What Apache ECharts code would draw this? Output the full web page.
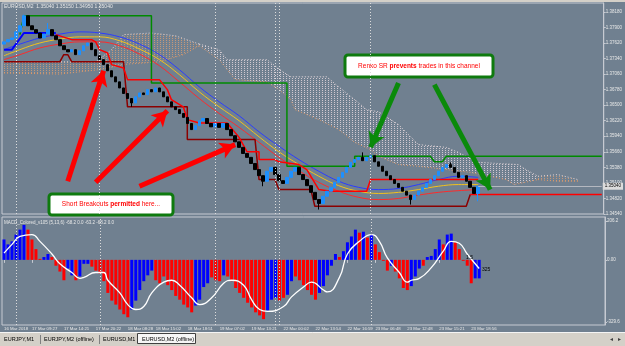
<!DOCTYPE html>
<html>
<head>
<meta charset="utf-8">
<script src="https://cdn.jsdelivr.net/npm/echarts@6.0.0/dist/echarts.min.js"></script>
<style>
  html, body { margin: 0; padding: 0; background: #708090; overflow: hidden; }
  #chart { width: 625px; height: 346px; }
</style>
</head>
<body>
<div id="chart"></div>
<script>
  // EURUSD M2 (offline renko) with MA ribbon, Renko SR lines, kumo and MACD_Colored

  var slotCount = 151; // bar slots on the time axis (includes the chart shift on the right)

  // renko closes, one per bar (open = previous close)
  var firstOpen = 1.3760;
  var closes = [
    1.3764, 1.3768, 1.3771, 1.3782, 1.3793, 1.3811, 1.3793, 1.3786, 1.3780, 1.3771,
    1.3778, 1.3786, 1.3775, 1.3768, 1.3757, 1.3750, 1.3746, 1.3750, 1.3741, 1.3748,
    1.3757, 1.3762, 1.3750, 1.3739, 1.3732, 1.3723, 1.3712, 1.3701, 1.3692, 1.3681,
    1.3671, 1.3662, 1.3654, 1.3665, 1.3672, 1.3669, 1.3678, 1.3674, 1.3681, 1.3674,
    1.3665, 1.3656, 1.3647, 1.3642, 1.3635, 1.3628, 1.3617, 1.3606, 1.3613, 1.3622,
    1.3626, 1.3617, 1.3611, 1.3617, 1.3610, 1.3617, 1.3606, 1.3595, 1.3584, 1.3574,
    1.3563, 1.3556, 1.3545, 1.3534, 1.3523, 1.3513, 1.3531, 1.3538, 1.3525, 1.3514,
    1.3509, 1.3520, 1.3531, 1.3538, 1.3525, 1.3516, 1.3505, 1.3493, 1.3480, 1.3473,
    1.3486, 1.3495, 1.3502, 1.3511, 1.3520, 1.3529, 1.3538, 1.3547, 1.3552, 1.3556,
    1.3550, 1.3556, 1.3559, 1.3548, 1.3540, 1.3531, 1.3523, 1.3516, 1.3509, 1.3502,
    1.3495, 1.3488, 1.3480, 1.3488, 1.3495, 1.3502, 1.3509, 1.3516, 1.3523, 1.3531,
    1.3538, 1.3543, 1.3538, 1.3529, 1.3520, 1.3523, 1.3513, 1.3502, 1.3491, 1.3504
  ];
  var wickLows = [[32, 1.3647], [65, 1.3504], [79, 1.3462], [102, 1.3471], [119, 1.3477]];
  var wickHighs = [[5, 1.3813], [11, 1.3798], [90, 1.3565], [112, 1.3547]];

  // moving-average ribbon [bar, price]
  var maBlue = [[0, 1.3750], [4, 1.3760], [9, 1.3771], [14, 1.3778], [19, 1.3782], [24, 1.3780], [29, 1.3773],
    [34, 1.3760], [39, 1.3741], [44, 1.3714], [49, 1.3683], [54, 1.3656], [59, 1.3631], [64, 1.3602],
    [69, 1.3576], [74, 1.3552], [79, 1.3531], [84, 1.3513], [89, 1.3502], [94, 1.3498], [99, 1.3500],
    [104, 1.3507], [109, 1.3516], [114, 1.3522], [119, 1.3520]];
  var maGold = [[0, 1.3739], [4, 1.3750], [9, 1.3762], [14, 1.3769], [19, 1.3773], [24, 1.3773], [29, 1.3766],
    [34, 1.3751], [39, 1.3732], [44, 1.3705], [49, 1.3674], [54, 1.3647], [59, 1.3622], [64, 1.3593],
    [69, 1.3566], [74, 1.3543], [79, 1.3522], [84, 1.3505], [89, 1.3495], [94, 1.3491], [99, 1.3493],
    [104, 1.3498], [109, 1.3504], [114, 1.3507], [119, 1.3507]];
  var maRed = [[0, 1.3732], [4, 1.3741], [9, 1.3753], [14, 1.3760], [19, 1.3764], [24, 1.3764], [29, 1.3757],
    [34, 1.3742], [39, 1.3721], [44, 1.3692], [49, 1.3662], [54, 1.3635], [59, 1.3610], [64, 1.3583],
    [69, 1.3556], [74, 1.3532], [79, 1.3511], [84, 1.3495], [89, 1.3484], [94, 1.3480], [99, 1.3482],
    [104, 1.3488], [109, 1.3493], [114, 1.3496], [119, 1.3498]];

  // Renko SR / channel lines [bar, price]
  var srBlue = [[0, 1.3750], [2, 1.3750], [5, 1.3780], [13, 1.3780]];
  var srUpper = [[13, 1.3777], [17, 1.3768], [22, 1.3768], [23, 1.3764], [24, 1.3750], [26, 1.3744], [27, 1.3723],
    [30, 1.3717], [31, 1.3696], [39, 1.3696], [41, 1.3678], [42, 1.3660], [45, 1.3647], [46, 1.3624],
    [49, 1.3618], [56, 1.3618], [59, 1.3592], [61, 1.3566], [64, 1.3566], [64, 1.3552], [68, 1.3552],
    [69, 1.3548], [74, 1.3543], [76, 1.3534], [79, 1.3498], [82, 1.3495], [91, 1.3495], [92, 1.3516],
    [119, 1.3516]];
  var srLower = [[0, 1.3728], [14, 1.3728], [15, 1.3741], [16, 1.3741], [17, 1.3728], [30, 1.3728], [31, 1.3647],
    [46, 1.3647], [46, 1.3588], [63, 1.3588], [64, 1.3516], [68, 1.3516], [69, 1.3498], [77, 1.3498],
    [78, 1.3468], [116, 1.3468], [117, 1.3489]];
  var srLowerExt = [[117, 1.3489], [150, 1.3489]];
  var srGreen = [[4, 1.3777], [5, 1.3811], [37, 1.3811], [37, 1.3690], [71, 1.3690], [71, 1.3540], [88, 1.3540],
    [88, 1.3558], [107, 1.3558], [108, 1.3548], [110, 1.3548], [111, 1.3558], [150, 1.3558]];

  // kumo edges [bar, price]
  var kumoATop = [[0, 1.3728], [23, 1.3728], [27, 1.3750], [30, 1.3777], [37, 1.3780], [43, 1.3775], [49, 1.3760]];
  var kumoABot = [[0, 1.3708], [14, 1.3706], [24, 1.3714], [31, 1.3724], [39, 1.3728], [45, 1.3741], [49, 1.3757]];
  var kumoBTop = [[49, 1.3760], [54, 1.3750], [56, 1.3732], [66, 1.3732], [70, 1.3710], [72, 1.3701], [81, 1.3701],
    [84, 1.3683], [88, 1.3660], [91, 1.3642], [94, 1.3638], [99, 1.3615], [104, 1.3579], [111, 1.3574],
    [114, 1.3565], [119, 1.3547], [129, 1.3543], [131, 1.3534], [134, 1.3522]];
  var kumoBBot = [[49, 1.3757], [54, 1.3732], [58, 1.3696], [66, 1.3692], [69, 1.3678], [72, 1.3660], [73, 1.3642],
    [79, 1.3624], [84, 1.3606], [88, 1.3583], [92, 1.3570], [94, 1.3558], [99, 1.3543], [104, 1.3540],
    [117, 1.3529], [126, 1.3516], [128, 1.3507], [134, 1.3516]];
  var kumoCTop = [[134, 1.3522], [139, 1.3525], [144, 1.3516]];
  var kumoCBot = [[134, 1.3516], [139, 1.3513], [144, 1.3513]];

  // MACD_Colored histogram, colour per bar (b = blue, r = red), and signal line
  var macdHist = [
    108, 82, 98, 134, 160, 185, 160, 108, 57, 5,
    15, 31, 15, -31, -62, -108, -46, -82, -108, -88,
    -21, -21, -36, -57, -72, -113, -175, -216, -237, -263,
    -288, -304, -263, -216, -160, -113, -82, -57, -108, -124,
    -88, -134, -160, -191, -211, -237, -252, -278, -242, -211,
    -144, -124, -93, -108, -113, -82, -88, -113, -149, -175,
    -201, -227, -252, -278, -294, -314, -268, -211, -201, -216,
    -201, -185, -113, -88, -108, -134, -160, -185, -211, -175,
    -139, -82, -31, 31, 15, 46, 93, 124, 160, 144,
    149, 118, 134, 82, 41, -5, -57, -31, -62, -98,
    -149, -160, -139, -88, -46, -31, 15, 21, 57, 108,
    82, 134, 139, 93, 57, -5, -31, -124, -98, -98
  ];
  var macdColors = 'bbbbbbrrrrbbrrrrbbrbbbrrrrrrrrrrbbbbbbrrrrrrrrrrbbbbrrrbrrrrrrrrrrbbbrrbbrrrrrrbbbbbrbbbbrbrbrrrrbrrrrbbbrbbbbrbbrrrrrbb';
  var macdSignal = [[0, 36], [2, 82], [4, 124], [7, 134], [9, 98], [12, 31], [14, -21], [17, -67], [19, -98],
    [20, -93], [23, -67], [25, -67], [26, -108], [29, -175], [31, -237], [33, -263], [35, -247], [37, -175],
    [40, -118], [42, -108], [44, -134], [47, -201], [49, -237], [52, -201], [55, -124], [57, -108], [60, -134],
    [62, -211], [64, -263], [66, -273], [70, -247], [72, -196], [75, -144], [77, -118], [80, -160], [81, -170],
    [84, -93], [86, 31], [89, 98], [92, 134], [94, 98], [96, 10], [99, -67], [101, -118], [102, -108],
    [104, -98], [107, -41], [110, 46], [112, 98], [114, 88], [116, 31], [119, -46]];

  var timeTickIdx = [0, 7, 15, 23, 31, 38, 46, 54, 62, 70, 78, 86, 93, 101, 109, 117];
  var timeLabels = ['16 Mar 2018', '17 Mar 09:27', '17 Mar 14:21', '17 Mar 20:22', '18 Mar 08:28',
    '18 Mar 15:02', '18 Mar 18:51', '19 Mar 07:02', '19 Mar 13:21', '22 Mar 00:02', '22 Mar 13:54',
    '22 Mar 16:59', '23 Mar 06:48', '23 Mar 12:48', '23 Mar 15:21', '23 Mar 18:56'];
  var priceTicks = [1.3818, 1.3790, 1.3762, 1.3734, 1.3706, 1.3678, 1.3650, 1.3622, 1.3594, 1.3566,
    1.3538, 1.3510, 1.3482, 1.3454];
  var macdTicks = [206.2, 0, -329.6];
  var daySeparators = [3, 24, 53, 68, 69, 92];
  var bidPrice = 1.3504;

  // annotation arrows [[bar, price] from, [bar, price] to]
  var redArrows = [[[16, 1.3513], [25, 1.3712]], [[23, 1.3511], [41, 1.3640]], [[34, 1.3504], [58, 1.3579]]];
  var greenArrows = [[[99, 1.3690], [92, 1.3574]], [[108, 1.3687], [122, 1.3498]]];

  // ---------------------------------------------------------------
  var cats = [];
  for (var i = 0; i < slotCount; i++) cats.push(String(i));

  var labelAt = {};
  timeTickIdx.forEach(function (idx, k) { labelAt[idx] = timeLabels[k]; });
  function isTimeTick(index) { return labelAt[index] !== undefined; }

  var candles = closes.map(function (c, i) {
    var o = i === 0 ? firstOpen : closes[i - 1];
    return [o, c, Math.min(o, c), Math.max(o, c)];
  });
  wickLows.forEach(function (w) { candles[w[0]][2] = w[1]; });
  wickHighs.forEach(function (w) { candles[w[0]][3] = w[1]; });

  var histData = macdHist.map(function (v, i) {
    return { value: v, itemStyle: { color: macdColors[i] === 'b' ? '#0000ff' : '#ff0000' } };
  });

  function dots(color) {
    var c = document.createElement('canvas');
    c.width = 3; c.height = 2;
    var g = c.getContext('2d');
    g.fillStyle = color;
    g.fillRect(1, 0, 1, 1);
    return { image: c, repeat: 'repeat' };
  }

  var kumoParts = [
    { top: kumoATop, bot: kumoABot, dot: 'rgba(226,160,112,0.75)' },
    { top: kumoBTop, bot: kumoBBot, dot: 'rgba(232,218,224,0.8)' },
    { top: kumoCTop, bot: kumoCBot, dot: 'rgba(226,160,112,0.75)' }
  ];

  function lineSeries(data, color, width, extra) {
    var s = {
      type: 'line', xAxisIndex: 0, yAxisIndex: 0, data: data, showSymbol: false, symbol: 'none',
      silent: true, lineStyle: { color: color, width: width }, z: 3
    };
    for (var k in extra) s[k] = extra[k];
    return s;
  }

  var sepLines = daySeparators.map(function (x) {
    return { xAxis: x, lineStyle: { color: '#dcdcdc', type: [1, 2], width: 1 } };
  });

  var arrowLines = redArrows.map(function (a) {
    return [{ coord: a[0], lineStyle: { color: '#ff0000', width: 5, type: 'solid' } }, { coord: a[1] }];
  }).concat(greenArrows.map(function (a) {
    return [{ coord: a[0], lineStyle: { color: '#0a8a0a', width: 5, type: 'solid' } }, { coord: a[1] }];
  }));

  var axisGray = '#c6cad2';
  var txtGray = '#e8e8e8';
  var fontName = 'Liberation Sans';

  var chart = echarts.init(document.getElementById('chart'));

  var option = {
    backgroundColor: '#708090',
    animation: false,
    textStyle: { fontFamily: fontName },
    grid: [
      { left: 2, right: 20, top: 3, height: 211, show: true, borderColor: axisGray, borderWidth: 1 },
      { left: 2, right: 20, top: 217, height: 108, show: true, borderColor: axisGray, borderWidth: 1 }
    ],
    xAxis: [
      { type: 'category', gridIndex: 0, data: cats, boundaryGap: true, show: false },
      {
        type: 'category', gridIndex: 1, data: cats, boundaryGap: true,
        axisLine: { show: false },
        axisTick: { show: true, interval: isTimeTick, alignWithLabel: true, length: 3, lineStyle: { color: axisGray } },
        axisLabel: {
          interval: isTimeTick, align: 'left', margin: 2, fontSize: 4.3, color: txtGray,
          formatter: function (v, idx) { return labelAt[idx] || ''; }
        }
      }
    ],
    yAxis: [
      {
        type: 'value', gridIndex: 0, position: 'right', min: 1.3454, max: 1.3834,
        splitLine: { show: false },
        axisLine: { show: true, lineStyle: { color: axisGray } },
        axisTick: { show: true, length: 2, customValues: priceTicks, lineStyle: { color: axisGray } },
        axisLabel: {
          customValues: priceTicks, fontSize: 4.5, color: txtGray, margin: 2,
          formatter: function (v) { return v.toFixed(5); }
        }
      },
      {
        type: 'value', gridIndex: 1, position: 'right', min: -345, max: 227,
        splitLine: { show: false },
        axisLine: { show: true, lineStyle: { color: axisGray } },
        axisTick: { show: true, length: 2, customValues: macdTicks, lineStyle: { color: axisGray } },
        axisLabel: {
          customValues: macdTicks, fontSize: 4.5, color: txtGray, margin: 2,
          formatter: function (v) { return v === 0 ? '0.00' : v.toFixed(1); }
        }
      }
    ],
    series: [
      {
        type: 'custom', xAxisIndex: 0, yAxisIndex: 0, data: [[0, 1.37]], silent: true, z: 1,
        renderItem: function (params, api) {
          var kids = [];
          kumoParts.forEach(function (part) {
            var top = part.top.map(function (p) { return api.coord(p); });
            var bot = part.bot.map(function (p) { return api.coord(p); });
            kids.push({ type: 'polygon', shape: { points: top.concat(bot.slice().reverse()) }, style: { fill: dots(part.dot) } });
            kids.push({ type: 'polyline', shape: { points: top }, style: { stroke: '#e2d6da', lineWidth: 1, lineDash: [1, 2], fill: null } });
            kids.push({ type: 'polyline', shape: { points: bot }, style: { stroke: '#e39a66', lineWidth: 1, lineDash: [1, 2], fill: null } });
          });
          return { type: 'group', children: kids };
        }
      },
      lineSeries([], '#000', 0, {
        markLine: { silent: true, symbol: 'none', label: { show: false }, animation: false, data: sepLines }
      }),
      lineSeries(maRed, '#ff2a2a', 1, { smooth: 0.4 }),
      lineSeries(maGold, '#f2c21c', 1, { smooth: 0.4 }),
      lineSeries(maBlue, '#2b3cff', 1, { smooth: 0.4 }),
      lineSeries(srGreen, '#008a00', 1.5, {}),
      lineSeries(srLower, '#8b0000', 1.5, {}),
      lineSeries(srLowerExt, '#ff0000', 1.5, {}),
      lineSeries(srUpper, '#ff0000', 1.5, {}),
      lineSeries(srBlue, '#0000ff', 2, {}),
      {
        type: 'candlestick', xAxisIndex: 0, yAxisIndex: 0, data: candles, barWidth: 3, z: 4, silent: true,
        itemStyle: { color: '#1e90ff', color0: '#000000', borderColor: '#1e90ff', borderColor0: '#000000', borderWidth: 1 },
        markLine: {
          silent: true, symbol: 'none', animation: false,
          data: [[
            {
              coord: [119, bidPrice], lineStyle: { color: '#b4b8c0', width: 1, type: 'solid' },
              label: {
                show: true, position: 'end', formatter: bidPrice.toFixed(5), color: '#000', fontSize: 4.5,
                backgroundColor: '#dcdcdc', padding: [1, 2], distance: 1
              }
            },
            { coord: [150, bidPrice] }
          ]]
        }
      },
      lineSeries([], '#000', 0, {
        z: 8,
        markLine: {
          silent: true, symbol: ['none', 'arrow'], symbolSize: [13, 15], animation: false,
          label: { show: false }, data: arrowLines
        }
      }),
      {
        type: 'bar', xAxisIndex: 1, yAxisIndex: 1, data: histData, barWidth: 3, silent: true, z: 2,
        markLine: { silent: true, symbol: 'none', label: { show: false }, animation: false, data: sepLines }
      },
      {
        type: 'line', xAxisIndex: 1, yAxisIndex: 1, data: macdSignal, smooth: 0.5, showSymbol: false,
        symbol: 'none', silent: true, z: 3, lineStyle: { color: '#ffffff', width: 1.3 }
      }
    ],
    graphic: [
      { type: 'rect', shape: { x: 0, y: 0, width: 625, height: 2 }, style: { fill: '#d4d0c8' }, silent: true },
      {
        type: 'text', x: 4, y: 4, silent: true, z: 20,
        style: { text: 'EURUSD,M2  1.35040 1.35150 1.34950 1.35040', fill: txtGray, font: '5px ' + fontName }
      },
      {
        type: 'text', x: 4, y: 220, silent: true, z: 20,
        style: { text: 'MACD_Colored_v105 (5,13,6) -68.2 0.0 -63.2 -68.2 0.0', fill: txtGray, font: '4.5px ' + fontName }
      },
      {
        type: 'text', x: 466, y: 255, silent: true, z: 20,
        style: { text: '1.5', fill: '#000', font: '5px ' + fontName }
      },
      {
        type: 'text', x: 482, y: 267, silent: true, z: 20,
        style: { text: '325', fill: '#000', font: '5px ' + fontName }
      },
      // callouts
      {
        type: 'group', silent: true, z: 30,
        children: [
          { type: 'rect', shape: { x: 345, y: 55, width: 148, height: 22, r: 3 }, style: { fill: '#ffffff', stroke: '#0e7a0e', lineWidth: 3 } },
          {
            type: 'text', x: 419, y: 66,
            style: {
              text: '{n|Renko SR }{b|prevents}{n| trades in this channel}', align: 'center', verticalAlign: 'middle',
              rich: {
                n: { fill: '#ff0000', font: '6.5px ' + fontName },
                b: { fill: '#ff0000', font: 'bold 6.5px ' + fontName }
              }
            }
          }
        ]
      },
      {
        type: 'group', silent: true, z: 30,
        children: [
          { type: 'rect', shape: { x: 49, y: 194, width: 124, height: 21, r: 3 }, style: { fill: '#ffffff', stroke: '#0e7a0e', lineWidth: 3 } },
          {
            type: 'text', x: 111, y: 204.5,
            style: {
              text: '{n|Short Breakouts }{b|permitted}{n| here...}', align: 'center', verticalAlign: 'middle',
              rich: {
                n: { fill: '#ff0000', font: '6.5px ' + fontName },
                b: { fill: '#ff0000', font: 'bold 6.5px ' + fontName }
              }
            }
          }
        ]
      },
      // terminal tab strip
      {
        type: 'group', silent: true, z: 30,
        children: [
          { type: 'rect', shape: { x: 0, y: 332, width: 625, height: 14 }, style: { fill: '#d4d0c8' } },
          { type: 'line', shape: { x1: 0, y1: 332.5, x2: 625, y2: 332.5 }, style: { stroke: '#f4f4f4', lineWidth: 1 } },
          { type: 'text', x: 4, y: 336, style: { text: 'EURJPY,M1', fill: '#000', font: '5.5px ' + fontName } },
          { type: 'line', shape: { x1: 40.5, y1: 335, x2: 40.5, y2: 344 }, style: { stroke: '#808080', lineWidth: 1 } },
          { type: 'text', x: 44, y: 336, style: { text: 'EURJPY,M2 (offline)', fill: '#000', font: '5.5px ' + fontName } },
          { type: 'line', shape: { x1: 99.5, y1: 335, x2: 99.5, y2: 344 }, style: { stroke: '#808080', lineWidth: 1 } },
          { type: 'text', x: 103, y: 336, style: { text: 'EURUSD,M1', fill: '#000', font: '5.5px ' + fontName } },
          { type: 'rect', shape: { x: 137.5, y: 333.5, width: 58, height: 10 }, style: { fill: '#f6f6f6', stroke: '#404040', lineWidth: 1 } },
          { type: 'text', x: 142, y: 336, style: { text: 'EURUSD,M2 (offline)', fill: '#000', font: '5.5px ' + fontName } },
          { type: 'text', x: 610, y: 336, style: { text: '\u25C2', fill: '#404040', font: '6px ' + fontName } },
          { type: 'text', x: 618, y: 336, style: { text: '\u25B8', fill: '#404040', font: '6px ' + fontName } }
        ]
      }
    ]
  };

  chart.setOption(option);
</script>
</body>
</html>
